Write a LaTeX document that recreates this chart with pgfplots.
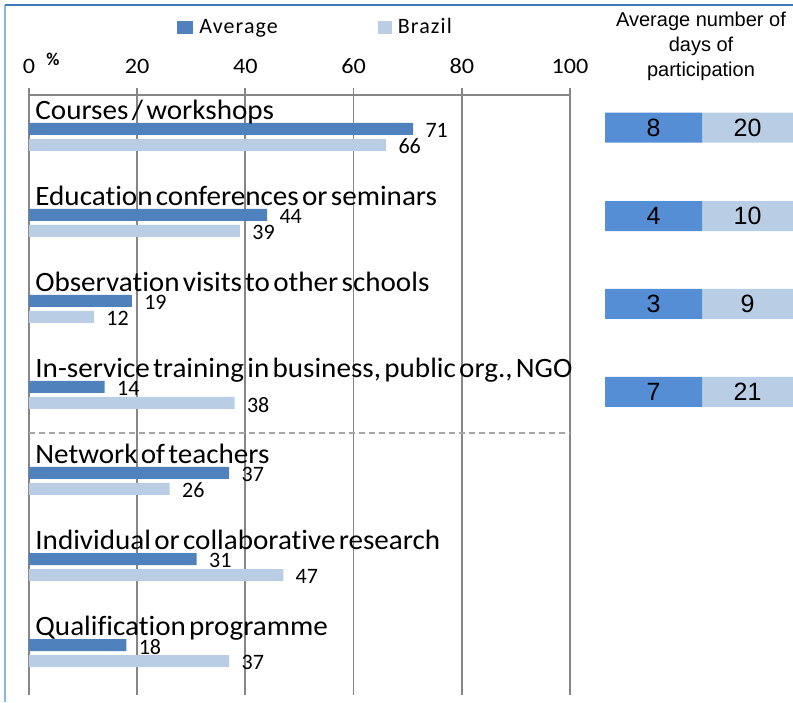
\documentclass[border=0pt]{standalone}
\usepackage{pgfplots}
\pgfplotsset{compat=1.18}
\usepackage{fontspec}
\setmainfont{Carlito}[Ligatures=CommonOff]
\newfontfamily\catfont{Carlito}[WordSpace=0.5, FakeStretch=1.04, Ligatures=CommonOff]
\newfontfamily\legfont{Carlito}[LetterSpace=5]
\newfontfamily\tickfont{Carlito}[FakeStretch=1.1]
\newfontfamily\arialfont{Liberation Sans}
\definecolor{avgblue}{HTML}{4F81BD}
\definecolor{brablue}{HTML}{B9CDE5}
\definecolor{boxblue}{HTML}{558ED5}
\definecolor{gridgray}{HTML}{868686}
\definecolor{dashgray}{HTML}{A6A6A6}
\definecolor{framelight}{HTML}{8DB4E2}
\definecolor{frametop}{HTML}{3C7AB8}
\begin{document}
\begin{tikzpicture}
\useasboundingbox (0,0) rectangle (396.5pt,351pt);
\draw[framelight, line width=0.8pt] (2.5pt,0) -- (2.5pt,348.5pt);
\draw[frametop, line width=0.8pt] (2.5pt,348.5pt) -- (396.5pt,348.5pt);
\begin{axis}[
  name=main, at={(14.5pt,303.5pt)}, anchor=north west,
  scale only axis, width=270.5pt, height=300pt,
  xmin=0, xmax=100, ymin=0.512, ymax=7.488,
  axis x line*=top, axis y line=none,
  x axis line style={draw=gridgray, line width=0.9pt, -},
  xtick={0,20,40,60,80,100},
  ytick=\empty,
  tick style={draw=gridgray, line width=0.9pt},
  tick align=outside, major tick length=3.5pt,
  xmajorgrids, grid style={draw=gridgray, line width=0.9pt},
  /pgf/number format/assume math mode=true,
  xticklabel style={font=\tickfont\fontsize{11}{13}\selectfont, yshift=3.5pt},
  xbar, bar width=6pt,
  nodes near coords,
  nodes near coords style={font=\fontsize{11}{13}\selectfont, anchor=west, xshift=2.7pt, yshift=-0.8pt},
  clip=false,
  legend style={at={(axis description cs:0.2736,1.1125)}, anchor=west, draw=none,
    fill=none, inner sep=0pt, legend columns=2,
    nodes={inner sep=0pt, font=\legfont\fontsize{11}{13}\selectfont},
    /tikz/every odd column/.append style={column sep=3pt},
    /tikz/every even column/.append style={column sep=50pt}},
]
\addplot[draw=none, fill=avgblue, bar shift=4pt,
  legend image code/.code={\fill[avgblue] (0pt,-3.4pt) rectangle (8pt,3.4pt);}]
  coordinates {(71,7) (44,6) (19,5) (14,4) (37,3) (31,2) (18,1)};
\addlegendentry{Average}
\addplot[draw=none, fill=brablue, bar shift=-4pt,
  legend image code/.code={\fill[brablue] (0pt,-3.4pt) rectangle (7pt,3.4pt);}]
  coordinates {(66,7) (39,6) (12,5) (38,4) (26,3) (47,2) (37,1)};
\addlegendentry{Brazil}
\draw[dashgray, line width=0.9pt, dash pattern=on 3pt off 2pt] (axis cs:0,3.558) -- (axis cs:100,3.558);
\node[font=\bfseries\fontsize{9}{10}\selectfont] at (axis description cs:0.0444,1.06) {\%};
\begin{scope}[every node/.style={anchor=base west, xshift=3pt, inner sep=0pt, font=\catfont\fontsize{14}{16}\selectfont}]
\node at (axis cs:0,7.200) {Courses / workshops};
\node at (axis cs:0,6.200) {Education conferences or seminars};
\node at (axis cs:0,5.200) {Observation visits to other schools};
\node at (axis cs:0,4.200) {In-service training in business, public org., NGO};
\node at (axis cs:0,3.200) {Network of teachers};
\node at (axis cs:0,2.200) {Individual or collaborative research};
\node at (axis cs:0,1.200) {Qualification programme};
\end{scope}
\end{axis}
\begin{axis}[
  at={(302.5pt,303.5pt)}, anchor=north west,
  scale only axis, width=94pt, height=300pt,
  xmin=0, xmax=188, ymin=0.512, ymax=7.488,
  hide axis, clip=false,
  xbar stacked, bar width=15pt, bar shift=0pt,
  point meta=explicit symbolic,
  nodes near coords,
  nodes near coords style={font=\arialfont\fontsize{12.5}{14}\selectfont, anchor=center},
]
\addplot[draw=none, fill=boxblue]
  coordinates {(97,7.110) [8] (97,6.081) [4] (97,5.058) [3] (97,4.035) [7]};
\addplot[draw=none, fill=brablue]
  coordinates {(91,7.110) [20] (91,6.081) [10] (91,5.058) [9] (91,4.035) [21]};
\end{axis}
\node[font=\arialfont\fontsize{10}{12.5}\selectfont, align=center] at (350.5pt,328pt) {Average number of\\days of\\participation};
\end{tikzpicture}
\end{document}
